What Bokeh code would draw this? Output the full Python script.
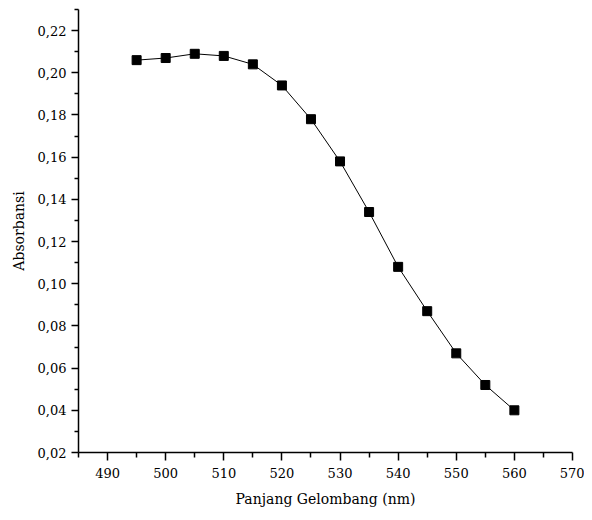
from bokeh.plotting import figure
from bokeh.models import Range1d, FixedTicker, CustomJSTickFormatter, ColumnDataSource
from bokeh.embed import file_html
from bokeh.resources import INLINE

wavelength = [495, 500, 505, 510, 515, 520, 525, 530, 535, 540, 545, 550, 555, 560]
absorbance = [0.206, 0.207, 0.209, 0.208, 0.204, 0.194, 0.178, 0.158, 0.134, 0.108, 0.087, 0.067, 0.052, 0.040]

x_major = [490, 500, 510, 520, 530, 540, 550, 560, 570]
x_minor = [485, 495, 505, 515, 525, 535, 545, 555, 565]
y_major = [0.02, 0.04, 0.06, 0.08, 0.10, 0.12, 0.14, 0.16, 0.18, 0.20, 0.22]
y_minor = [0.03, 0.05, 0.07, 0.09, 0.11, 0.13, 0.15, 0.17, 0.19, 0.21, 0.23]

src = ColumnDataSource(dict(x=wavelength, y=absorbance))

FONT = "DejaVu Serif"

p = figure(width=584, height=512, output_backend="svg", toolbar_location=None,
           x_range=Range1d(485, 570), y_range=Range1d(0.02, 0.23),
           min_border_left=78, min_border_right=12, min_border_top=9, min_border_bottom=60)
p.outline_line_color = None
p.grid.visible = False
p.background_fill_color = "white"

p.line("x", "y", source=src, line_color="black", line_width=1)
p.scatter("x", "y", source=src, marker="square", size=9, fill_color="black", line_color="black")

p.xaxis.ticker = FixedTicker(ticks=x_major, minor_ticks=x_minor)
p.yaxis.ticker = FixedTicker(ticks=y_major, minor_ticks=y_minor)
p.yaxis.formatter = CustomJSTickFormatter(code="return tick.toFixed(2).replace('.', ',');")

p.xaxis.axis_label = "Panjang Gelombang (nm)"
p.yaxis.axis_label = "Absorbansi"

for ax in (p.xaxis, p.yaxis):
    ax.axis_line_width = 1.5
    ax.axis_line_color = "black"
    ax.major_tick_line_color = "black"
    ax.minor_tick_line_color = "black"
    ax.major_tick_line_width = 1.5
    ax.minor_tick_line_width = 1.5
    ax.major_tick_in = 0
    ax.minor_tick_in = 0
    ax.major_label_text_font = FONT
    ax.major_label_text_font_size = "13px"
    ax.major_label_text_color = "black"
    ax.axis_label_text_font = FONT
    ax.axis_label_text_font_size = "14px"
    ax.axis_label_text_font_style = "normal"
    ax.axis_label_text_color = "black"

p.xaxis.major_tick_out = 8
p.xaxis.minor_tick_out = 5
p.xaxis.major_label_standoff = 7
p.xaxis.axis_label_standoff = 10
p.yaxis.major_tick_out = 7
p.yaxis.minor_tick_out = 4
p.yaxis.major_label_standoff = 5
p.yaxis.axis_label_standoff = 8

open("out.html", "w").write(file_html(p, INLINE))
